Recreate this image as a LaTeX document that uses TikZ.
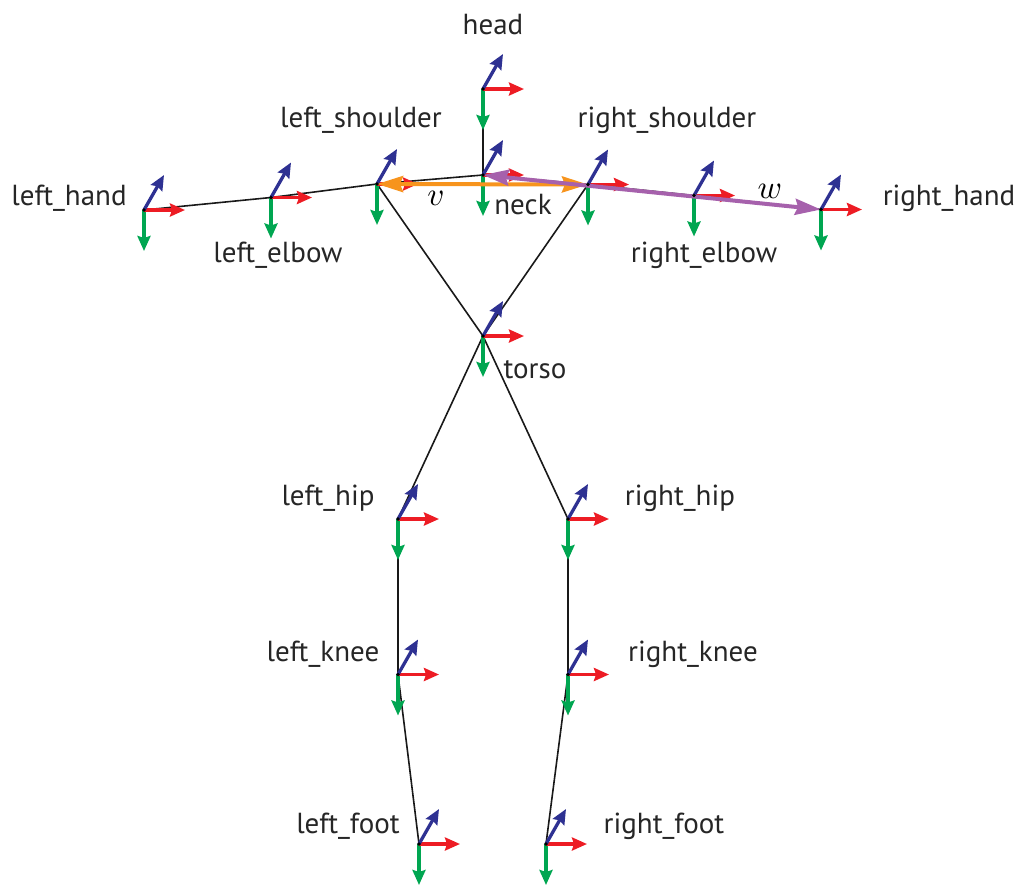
\documentclass[tikz,border=0pt]{standalone}
\usepackage{fontspec}
\setmainfont{PT Sans}
\usetikzlibrary{arrows.meta,calc}
\definecolor{axred}{RGB}{237,28,36}
\definecolor{axgreen}{RGB}{0,166,81}
\definecolor{axblue}{RGB}{46,49,146}
\definecolor{vorange}{RGB}{247,148,29}
\definecolor{wpurple}{RGB}{166,97,172}
\tikzset{
  joint/.style={circle,fill=black,inner sep=0pt,minimum size=3.5pt},
  bone/.style={line width=1.6pt,black!90},
  axis/.style={line width=3.3pt,-{Stealth[length=15pt,width=13pt,inset=2pt]}},
  xax/.style={axis,axred},
  yax/.style={axis,axgreen},
  zax/.style={axis,axblue},
  vec/.style={line width=4pt,{Stealth[length=26pt,width=16pt,inset=3pt]}-{Stealth[length=26pt,width=16pt,inset=3pt]}},
  lab/.style={font=\fontsize{29}{34}\selectfont,text=black!85,inner sep=0pt},
  mlab/.style={inner sep=0pt}
}
\begin{document}
\begin{tikzpicture}[x=1pt,y=-1pt]
\useasboundingbox (0,0) rectangle (1021,887);
% joints
\node[joint] (head) at (483,89) {};
\node[joint] (neck) at (483,175) {};
\node[joint] (left_shoulder) at (377,184) {};
\node[joint] (right_shoulder) at (588,184.5) {};
\node[joint] (left_elbow) at (271,197.5) {};
\node[joint] (right_elbow) at (694,195.5) {};
\node[joint] (left_hand) at (144,210) {};
\node[joint] (right_hand) at (821,209.5) {};
\node[joint] (torso) at (483,336) {};
\node[joint] (left_hip) at (398,519) {};
\node[joint] (right_hip) at (568,519) {};
\node[joint] (left_knee) at (398,674.5) {};
\node[joint] (right_knee) at (568,674.5) {};
\node[joint] (left_foot) at (419,844) {};
\node[joint] (right_foot) at (546,844) {};
% bones
\draw[bone] (head.center) -- (neck.center);
\draw[bone] (left_hand.center) -- (left_elbow.center) -- (left_shoulder.center) -- (neck.center) -- (right_shoulder.center) -- (right_elbow.center) -- (right_hand.center);
\draw[bone] (left_shoulder.center) -- (torso.center) -- (right_hip.center) -- (right_knee.center) -- (right_foot.center);
\draw[bone] (right_shoulder.center) -- (torso.center) -- (left_hip.center) -- (left_knee.center) -- (left_foot.center);
% frames
\foreach \j in {head,neck,left_shoulder,right_shoulder,left_elbow,right_elbow,left_hand,right_hand,torso,left_hip,right_hip,left_knee,right_knee,left_foot,right_foot}{
  \coordinate (\j-x) at ($(\j)+(41,0)$);
  \coordinate (\j-y) at ($(\j)+(0,41)$);
  \coordinate (\j-z) at ($(\j)+(20,-35)$);
  \draw[yax] (\j.center) -- (\j-y);
  \draw[xax] (\j.center) -- (\j-x);
  \draw[zax] (\j.center) -- (\j-z);
}
% vectors
\draw[vec,vorange] (left_shoulder.center) -- (right_shoulder.center);
\draw[vec,wpurple] (neck.center) -- (right_hand.center);
\foreach \j in {head,neck,left_shoulder,right_shoulder,left_elbow,right_elbow,left_hand,right_hand,torso,left_hip,right_hip,left_knee,right_knee,left_foot,right_foot}{
  \fill (\j) circle (1.8);
}
% labels
\node[lab] (l-head) at (493,25) {head};
\node[lab] (l-ls) at (361,120) {left\_shoulder};
\node[lab] (l-rs) at (667,120) {right\_shoulder};
\node[lab] (l-lh) at (69,198) {left\_hand};
\node[lab] (l-rh) at (949,198) {right\_hand};
\node[lab] (l-le) at (278,255) {left\_elbow};
\node[lab] (l-re) at (704,255) {right\_elbow};
\node[lab] (l-neck) at (523,205) {neck};
\node[lab] (l-torso) at (535,370) {torso};
\node[lab] (l-lhip) at (328,498) {left\_hip};
\node[lab] (l-rhip) at (680,498) {right\_hip};
\node[lab] (l-lk) at (323,654) {left\_knee};
\node[lab] (l-rk) at (693,654) {right\_knee};
\node[lab] (l-lf) at (348,826) {left\_foot};
\node[lab] (l-rf) at (664,826) {right\_foot};
\node[mlab] (l-v) at (436,198) {\scalebox{3.3}{$v$}};
\node[mlab] (l-w) at (770,191) {\scalebox{3.3}{$w$}};
\end{tikzpicture}
\end{document}
